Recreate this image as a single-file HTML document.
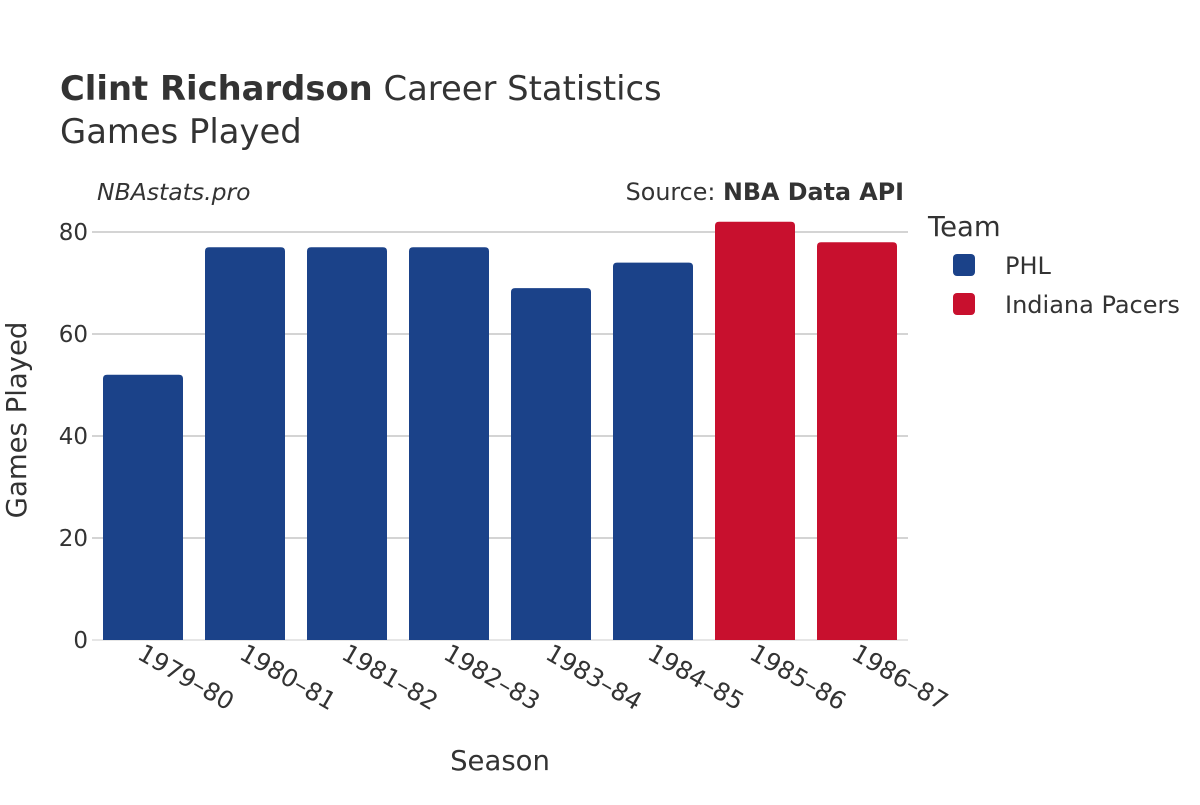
<!DOCTYPE html>
<html><head><meta charset="utf-8"><style>
body{margin:0;background:#fff}
svg text{font-family:"DejaVu Sans","Liberation Sans",sans-serif;fill:#333}
</style></head><body>
<svg id="chart" width="1200" height="800" viewBox="0 0 1200 800">
<text x="60" y="100" font-size="33.8"><tspan font-weight="bold">Clint Richardson</tspan> Career Statistics</text>
<text x="60" y="143" font-size="33.8">Games Played</text>
<text x="97" y="200" font-size="23.5" font-style="italic">NBAstats.pro</text>
<text x="904" y="200" font-size="23.8" text-anchor="end">Source: <tspan font-weight="bold">NBA Data API</tspan></text>
<g id="grid"></g>
<g id="bars"></g>
<g id="xticks"></g>
<g id="yticks"></g>
<text x="500" y="770" font-size="27.5" text-anchor="middle">Season</text>
<text transform="translate(26,420) rotate(-90)" font-size="27.5" text-anchor="middle">Games Played</text>
<g>
<text x="928" y="236" font-size="27.5">Team</text>
<g><rect x="953" y="254" width="22" height="22" rx="4" fill="#1b4289"/><text x="1005" y="274" font-size="24">PHL</text></g>
<g><rect x="953" y="293" width="22" height="22" rx="4" fill="#c8102e"/><text x="1005" y="313" font-size="24">Indiana Pacers</text></g>
</g>
</svg>
<script>
const seasons=["1979–80","1980–81","1981–82","1982–83","1983–84","1984–85","1985–86","1986–87"];
const games=[52,77,77,77,69,74,82,78];
const teams=["PHL","PHL","PHL","PHL","PHL","PHL","Indiana Pacers","Indiana Pacers"];
const yTicks=[0,20,40,60,80];
const colors={"PHL":"#1b4289","Indiana Pacers":"#c8102e"};
const NS="http://www.w3.org/2000/svg";
const x0=92,x1=908,y0=640,yTop=232,yMaxV=80;
const slot=(x1-x0)/seasons.length, bw=80;
const y=v=>y0-(v/yMaxV)*(y0-yTop);
const xc=i=>x0+slot*(i+0.5);
function mk(t,a,p){const e=document.createElementNS(NS,t);for(const k in a)e.setAttribute(k,a[k]);p.appendChild(e);return e;}
const grid=document.getElementById('grid'),yt=document.getElementById('yticks');
yTicks.forEach(v=>{
  const l=mk('line',{x1:x0,x2:x1,y1:y(v),y2:y(v),stroke:v===0?'#e6e6e6':'#aaaaaa','stroke-width':v===0?2:1},grid);
  
  
  const t=mk('text',{x:x0-4,y:y(v)+8,'font-size':23,'text-anchor':'end'},yt);
  t.textContent=v;
  
  
});
const bars=document.getElementById('bars'),xt=document.getElementById('xticks');
seasons.forEach((s,i)=>{
  const top=y(games[i]),left=xc(i)-bw/2,r=4;
  const p=mk('path',{d:`M${left},${y0}V${top+r}Q${left},${top} ${left+r},${top}H${left+bw-r}Q${left+bw},${top} ${left+bw},${top+r}V${y0}Z`,fill:colors[teams[i]]},bars);
  
  
  const t=mk('text',{transform:`translate(${xc(i)-7},${658}) rotate(30)`,'font-size':24.5},xt);
  t.textContent=s;
  
  
});
</script>
</body></html>
